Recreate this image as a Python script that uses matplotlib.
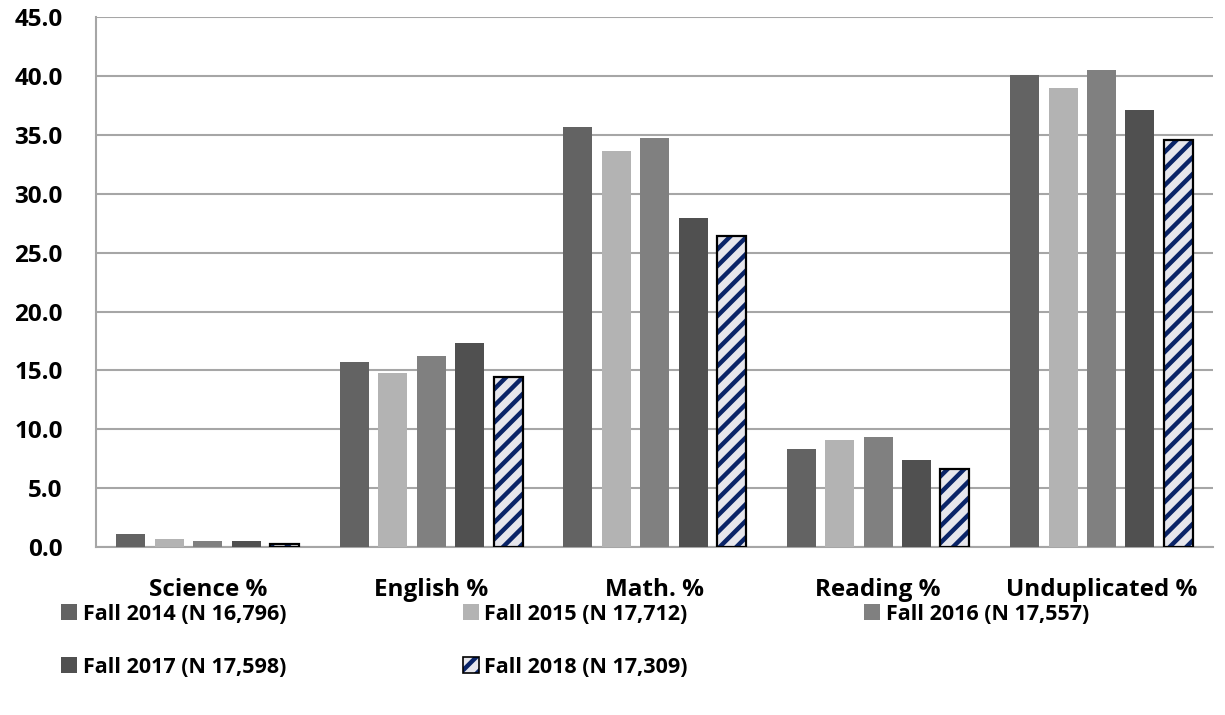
import numpy as np
import matplotlib
matplotlib.use("Agg")
import matplotlib.pyplot as plt
from matplotlib.patches import Patch

"""Data"""
categories = ["Science %", "English %", "Math. %", "Reading %", "Unduplicated %"]
series = ["Fall 2014 (N 16,796)", "Fall 2015 (N 17,712)", "Fall 2016 (N 17,557)",
          "Fall 2017 (N 17,598)", "Fall 2018 (N 17,309)"]
fall_2014 = [1.1, 15.7, 35.7, 8.3, 40.1]
fall_2015 = [0.7, 14.8, 33.6, 9.1, 39.0]
fall_2016 = [0.5, 16.2, 34.7, 9.3, 40.5]
fall_2017 = [0.5, 17.3, 27.9, 7.4, 37.1]
fall_2018 = [0.25, 14.4, 26.4, 6.6, 34.6]
y_ticks = [0, 5, 10, 15, 20, 25, 30, 35, 40, 45]

colors = ["#636363", "#b3b3b3", "#808080", "#505050", "#e6e6ec"]
navy = "#0a2468"

plt.rcParams["font.family"] = ["Open Sans", "DejaVu Sans"]
plt.rcParams["font.weight"] = "bold"
plt.rcParams["hatch.linewidth"] = 3.2
axis_fs = 17.5
leg_fs = 15.5

fig = plt.figure(figsize=(12.25, 7.15), dpi=100)
ax = fig.add_axes([0.0784, 0.235, 0.912, 0.741])

x = np.arange(len(categories))
pitch = 0.172
width = 0.13
all_vals = [fall_2014, fall_2015, fall_2016, fall_2017, fall_2018]
for i, vals in enumerate(all_vals):
    pos = x + (i - 2) * pitch
    if i < 4:
        ax.bar(pos, vals, width, color=colors[i], zorder=3)
    else:
        # hatched bar: navy stripes, then black outline on top
        ax.bar(pos, vals, width, color=colors[i], edgecolor=navy, hatch="//",
               linewidth=0, zorder=3)
        ax.bar(pos, vals, width, fill=False, edgecolor="black", linewidth=1.6, zorder=4)

ax.set_xlim(-0.5, len(categories) - 0.5)
ax.set_ylim(0, 45)
ax.set_yticks(y_ticks)
ax.set_yticklabels(["%.1f" % v for v in y_ticks], fontweight="bold", fontsize=axis_fs)
ax.set_xticks(x)
ax.set_xticklabels(categories, fontweight="bold", fontsize=axis_fs)
ax.tick_params(axis="y", length=0, pad=24)
ax.tick_params(axis="x", length=0, pad=22)
ax.grid(axis="y", color="#a6a6a6", linewidth=1.5, zorder=0)
for s in ["top", "right"]:
    ax.spines[s].set_visible(False)
for s in ["left", "bottom"]:
    ax.spines[s].set_color("#a6a6a6")
    ax.spines[s].set_linewidth(1.5)

handles = [Patch(facecolor=c) for c in colors[:4]]
handles.append((Patch(facecolor=colors[4], edgecolor=navy, hatch="//", linewidth=0),
                Patch(fill=False, edgecolor="black", linewidth=1.2)))
order = [0, 3, 1, 4, 2]
leg = fig.legend([handles[k] for k in order], [series[k] for k in order], ncol=3,
                 loc="upper left", bbox_to_anchor=(0.034, 0.183), frameon=False,
                 prop={"weight": "bold", "size": leg_fs},
                 handlelength=0.75, handleheight=0.75, handletextpad=0.25,
                 columnspacing=8.2, labelspacing=1.5)

fig.savefig("out.png", dpi=100)
